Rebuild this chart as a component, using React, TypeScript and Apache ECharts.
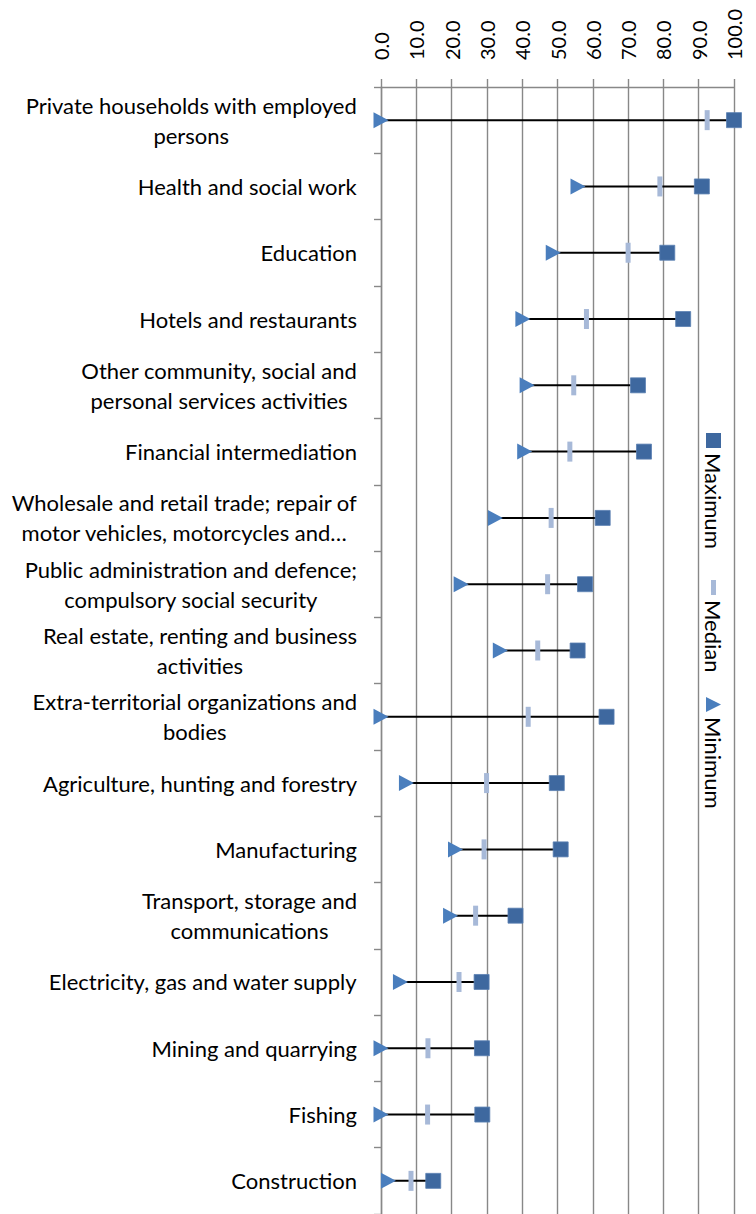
import React, { useEffect, useRef } from 'react';
import * as echarts from 'echarts';

const categories = [
  'Private households with employed\npersons',
  'Health and social work',
  'Education',
  'Hotels and restaurants',
  'Other community, social and\npersonal services activities',
  'Financial intermediation',
  'Wholesale and retail trade; repair of\nmotor vehicles, motorcycles and…',
  'Public administration and defence;\ncompulsory social security',
  'Real estate, renting and business\nactivities',
  'Extra-territorial organizations and\nbodies',
  'Agriculture, hunting and forestry',
  'Manufacturing',
  'Transport, storage and\ncommunications',
  'Electricity, gas and water supply',
  'Mining and quarrying',
  'Fishing',
  'Construction',
];
const maximum = [100, 90.9, 81.1, 85.6, 72.8, 74.5, 62.8, 57.8, 55.7, 63.9, 49.8, 50.9, 38.1, 28.5, 28.6, 28.7, 14.8];
const median = [92.4, 79.0, 70.0, 58.2, 54.6, 53.5, 48.2, 47.2, 44.4, 41.7, 29.9, 29.2, 26.8, 22.1, 13.3, 13.2, 8.5];
const minimum = [0, 55.8, 48.8, 40.2, 41.4, 40.7, 32.4, 22.7, 33.8, 0, 7.2, 21.1, 19.7, 5.5, 0, 0, 2.1];
const legendNames = ['Maximum', 'Median', 'Minimum'];

const FONT = 'Lato';
const GRAY = '#888888';
const MAX_COLOR = '#3e689f';
const MED_COLOR = '#a7b9d8';
const MIN_COLOR = '#4a7ebd';

export default function App() {
  const ref = useRef<HTMLDivElement>(null);
  useEffect(() => {
    if (!ref.current) return;
    const chart = echarts.init(ref.current, null, { renderer: 'svg' });
    const idx = categories.map((_, i) => i);
    const option: any = {
      animation: false,
      backgroundColor: '#ffffff',
      grid: { left: 381, right: 22, top: 87, bottom: 0, containLabel: false },
      xAxis: {
        type: 'value',
        position: 'top',
        min: 0,
        max: 100,
        interval: 10,
        axisLine: { show: true, lineStyle: { color: GRAY, width: 1.4 } },
        axisTick: { show: true, length: 8, lineStyle: { color: GRAY, width: 1.4 } },
        splitLine: { show: true, lineStyle: { color: GRAY, width: 1.4 } },
        axisLabel: {
          rotate: -90,
          margin: 27,
          color: '#000',
          fontFamily: FONT,
          fontSize: 20,
          formatter: (v: number) => v.toFixed(1),
        },
      },
      yAxis: {
        type: 'category',
        data: categories,
        inverse: true,
        axisLine: { show: true, lineStyle: { color: GRAY, width: 1.4 } },
        axisTick: { show: true, length: 7, lineStyle: { color: GRAY, width: 1.4 } },
        splitLine: { show: false },
        axisLabel: {
          margin: 24,
          color: '#000',
          fontFamily: FONT,
          fontSize: 22,
          lineHeight: 30,
          align: 'right',
          interval: 0,
          formatter: (v: string) => v.split('\n').map((l) => `{c|${l}}`).join('\n'),
          rich: {
            c: { align: 'center', fontFamily: FONT, fontSize: 22, lineHeight: 30, color: '#000' },
          },
        },
      },
      series: [
        {
          type: 'custom',
          name: 'range',
          data: idx.map((i) => [minimum[i], maximum[i], i]),
          encode: { x: [0, 1], y: 2 },
          renderItem: (params: any, api: any) => {
            const s = api.coord([api.value(0), api.value(2)]);
            const e = api.coord([api.value(1), api.value(2)]);
            return {
              type: 'line',
              shape: { x1: s[0], y1: s[1], x2: e[0], y2: e[1] },
              style: { stroke: '#000', lineWidth: 2 },
            };
          },
          z: 1,
        },
        {
          type: 'scatter',
          name: 'Median',
          data: idx.map((i) => [median[i], i]),
          symbol: 'rect',
          symbolSize: [5, 20],
          itemStyle: { color: MED_COLOR, opacity: 1 },
          z: 2,
        },
        {
          type: 'scatter',
          name: 'Minimum',
          data: idx.map((i) => [minimum[i], i]),
          symbol: 'triangle',
          symbolSize: [16, 15],
          symbolRotate: -90,
          itemStyle: { color: MIN_COLOR, opacity: 1 },
          z: 3,
        },
        {
          type: 'scatter',
          name: 'Maximum',
          data: idx.map((i) => [maximum[i], i]),
          symbol: 'rect',
          symbolSize: 15,
          itemStyle: { color: MAX_COLOR, borderColor: '#5a80b3', borderWidth: 0.8, opacity: 1 },
          z: 4,
        },
      ],
      graphic: [
        {
          type: 'group',
          x: 713.5,
          y: 433,
          rotation: -Math.PI / 2,
          children: [
            { type: 'rect', shape: { x: 0, y: -7.5, width: 15, height: 15 }, style: { fill: MAX_COLOR } },
            { type: 'text', x: 20, y: 0, style: { text: legendNames[0], fill: '#000', font: `22px ${FONT}`, textAlign: 'left', textVerticalAlign: 'middle' } },
            { type: 'rect', shape: { x: 147, y: -2.5, width: 15, height: 5 }, style: { fill: MED_COLOR } },
            { type: 'text', x: 167, y: 0, style: { text: legendNames[1], fill: '#000', font: `22px ${FONT}`, textAlign: 'left', textVerticalAlign: 'middle' } },
            { type: 'polygon', shape: { points: [[264, 7.5], [279, 7.5], [271.5, -7.5]] }, style: { fill: MIN_COLOR } },
            { type: 'text', x: 284, y: 0, style: { text: legendNames[2], fill: '#000', font: `22px ${FONT}`, textAlign: 'left', textVerticalAlign: 'middle' } },
          ],
        },
      ],
    };
    chart.setOption(option);
    return () => chart.dispose();
  }, []);
  return (
    <div
      ref={ref}
      style={{ position: 'absolute', left: 0, top: 0, width: 756, height: 1214, background: '#fff' }}
    />
  );
}
